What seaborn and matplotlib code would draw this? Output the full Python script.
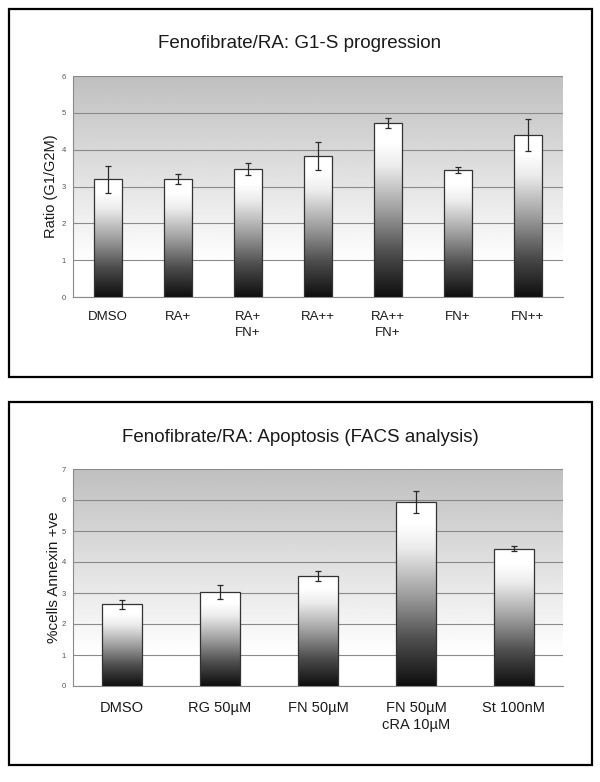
import numpy as np
import pandas as pd
import matplotlib
matplotlib.use("Agg")
import matplotlib.pyplot as plt
from matplotlib.colors import LinearSegmentedColormap
from matplotlib.patches import Rectangle
import seaborn as sns

# G1-S progression
g1s_labels = ["DMSO", "RA+", "RA+\nFN+", "RA++", "RA++\nFN+", "FN+", "FN++"]
g1s_ratio = [3.20, 3.20, 3.48, 3.83, 4.73, 3.45, 4.40]
g1s_err = [0.37, 0.14, 0.16, 0.37, 0.14, 0.07, 0.43]

# apoptosis (FACS)
apo_labels = ["DMSO", "RG 50µM", "FN 50µM", "FN 50µM\ncRA 10µM", "St 100nM"]
apo_pct = [2.63, 3.03, 3.55, 5.93, 4.43]
apo_err = [0.14, 0.22, 0.15, 0.35, 0.08]

sns.set_style("white")
plt.rcParams["font.family"] = ["Liberation Sans", "DejaVu Sans"]

W, H = 600, 782
fig = plt.figure(figsize=(W / 100, H / 100), dpi=100)

# gradiente do fundo (cinza em cima -> branco em baixo)
bg = np.linspace(0, 1, 256)
bg = 0.75 + 0.25 * np.clip(bg / 0.85, 0, 1)
bg = bg[:, None]

# gradiente das barras (branco em cima -> preto em baixo)
bar_cmap = LinearSegmentedColormap.from_list(
    "barra", [(0.0, "#0e0e0e"), (0.25, "#4d4d4d"), (0.5, "#a0a0a0"),
              (0.75, "#ececec"), (0.88, "#ffffff"), (1.0, "#ffffff")])
grad = np.linspace(1, 0, 256)[:, None]


def painel(ax, labels, vals, errs, ymax, ylabel, ylab_x, fs_x, fs_y, pad_x, lsp):
    df = pd.DataFrame({"cond": labels, "val": vals})
    sns.barplot(data=df, x="cond", y="val", width=0.4, color="white",
                edgecolor="#333333", linewidth=0.9, ax=ax, zorder=4)
    ax.imshow(bg, extent=[0, 1, 0, 1], transform=ax.transAxes, aspect="auto",
              cmap="gray", vmin=0, vmax=1, zorder=0)
    xs = []
    for p in ax.patches:
        x0, w, h = p.get_x(), p.get_width(), p.get_height()
        im = ax.imshow(grad, extent=[x0, x0 + w, 0, h], aspect="auto",
                       cmap=bar_cmap, vmin=0, vmax=1, zorder=3)
        im.set_clip_path(p)
        p.set_facecolor("none")
        xs.append(x0 + w / 2)
    ax.errorbar(xs, vals, yerr=errs, fmt="none", ecolor="#2a2a2a",
                elinewidth=0.9, capsize=2, capthick=0.9, zorder=5)

    n = len(labels)
    ax.set_xlim(-0.5, n - 0.5)
    ax.set_ylim(0, ymax)
    ax.set_yticks(range(ymax + 1))
    ax.yaxis.grid(True, color="#8a8a8a", lw=0.8)
    ax.set_axisbelow(True)
    ax.set_xticks(np.arange(n + 1) - 0.5, minor=True)
    ax.tick_params(axis="x", which="major", length=0, pad=pad_x,
                   labelsize=fs_x, labelcolor="#1a1a1a")
    ax.tick_params(axis="x", which="minor", length=4, width=0.7,
                   color="#8a8a8a", direction="out")
    ax.tick_params(axis="y", length=3, width=0.7, color="#8a8a8a",
                   direction="out", pad=2, labelsize=5.5, labelcolor="#555555")
    for lbl in ax.get_xticklabels():
        lbl.set_linespacing(lsp)
    for s in ["top", "right"]:
        ax.spines[s].set_visible(False)
    for s in ["left", "bottom"]:
        ax.spines[s].set_color("#8a8a8a")
        ax.spines[s].set_linewidth(0.8)
    ax.set_xlabel("")
    ax.set_ylabel(ylabel, fontsize=fs_y, color="#1a1a1a")
    ax.yaxis.set_label_coords(ylab_x, 0.5)


ax1 = fig.add_axes([73 / W, 1 - 297 / H, 490 / W, 221 / H])
painel(ax1, g1s_labels, g1s_ratio, g1s_err, 6, "Ratio (G1/G2M)",
       -0.031, 9.5, 10.5, 10, 1.45)

ax2 = fig.add_axes([73 / W, 1 - 686 / H, 490 / W, 217 / H])
painel(ax2, apo_labels, apo_pct, apo_err, 7, "%cells Annexin +ve",
       -0.025, 10.5, 11, 10.5, 1.35)

fig.text(0.5, 1 - 44 / H, "Fenofibrate/RA: G1-S progression",
         ha="center", va="center", fontsize=13.5, color="#1a1a1a")
fig.text(0.5, 1 - 437 / H, "Fenofibrate/RA: Apoptosis (FACS analysis)",
         ha="center", va="center", fontsize=13.5, color="#1a1a1a")

# molduras
for y0, y1 in [(8.5, 377), (402, 765)]:
    fig.patches.append(Rectangle((8.5 / W, 1 - y1 / H), (592 - 8.5) / W,
                                 (y1 - y0) / H, transform=fig.transFigure,
                                 fill=False, lw=1.6, ec="black"))

fig.savefig("out.png", dpi=100)
